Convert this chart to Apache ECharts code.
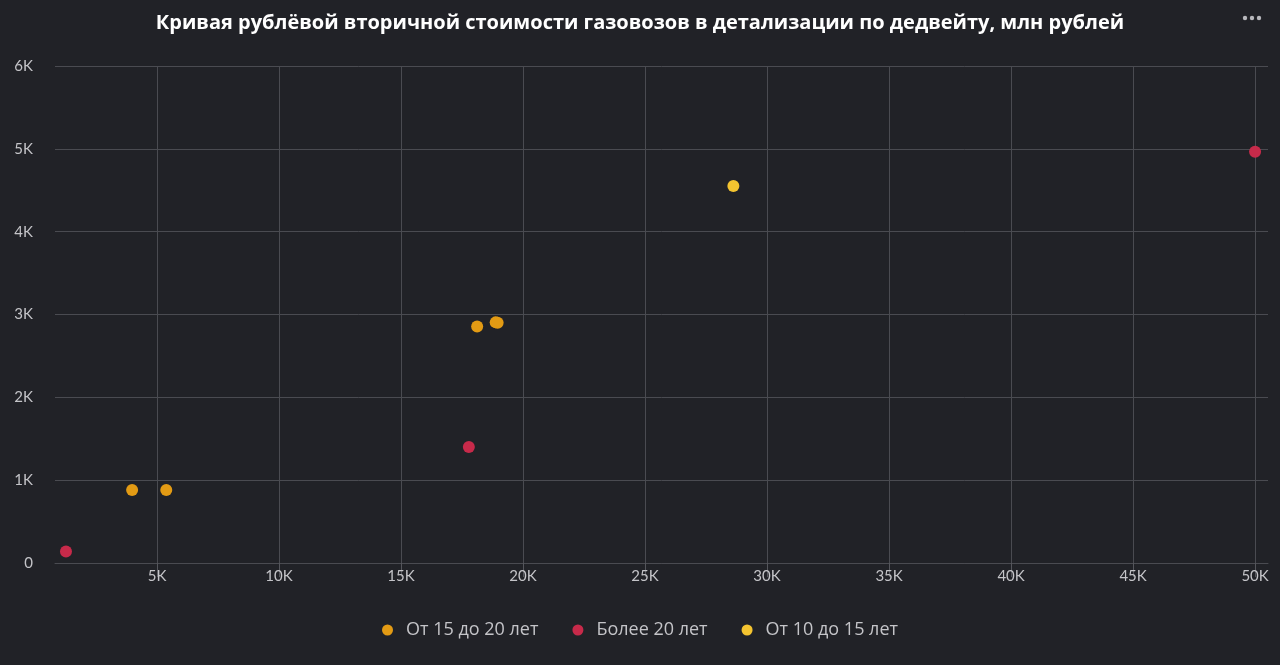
<!DOCTYPE html>
<html>
<head>
<meta charset="utf-8">
<script src="https://cdn.jsdelivr.net/npm/echarts@6/dist/echarts.min.js"></script>
<style>
html,body{margin:0;padding:0;background:#212227;}
#c{width:1280px;height:665px;}
</style>
</head>
<body>
<div id="c"></div>
<script>
const titleText = 'Кривая рублёвой вторичной стоимости газовозов в детализации по дедвейту, млн рублей';
const seriesNames = ['От 15 до 20 лет', 'Более 20 лет', 'От 10 до 15 лет'];
const seriesColors = ['#e39b14', '#c72a4a', '#f4c430'];
const age15to20 = [[3980, 882], [5380, 882], [18120, 2855], [18880, 2905], [18960, 2900]];
const ageOver20 = [[1270, 140], [17780, 1400], [50000, 4965]];
const age10to15 = [[28620, 4550]];
const xTicks = [5000, 10000, 15000, 20000, 25000, 30000, 35000, 40000, 45000, 50000];
const xMin = 820, xMax = 50530;
const yMin = 0, yMax = 6000, yStep = 1000;

const seriesData = [age15to20, ageOver20, age10to15];
const fmtK = v => v === 0 ? '0' : (v / 1000) + 'K';
const gridColor = '#4a4b51';
const labelColor = '#c4c4c8';

const chart = echarts.init(document.getElementById('c'), null, {renderer: 'canvas'});
chart.setOption({
  backgroundColor: '#212227',
  animation: false,
  title: {
    text: titleText, left: 'center', top: 8,
    textStyle: {color: '#ffffff', fontFamily: 'Open Sans', fontWeight: 'bold', fontSize: 20}
  },
  graphic: [0, 1, 2].map(i => ({
    type: 'circle', shape: {cx: 1245 + i * 7, cy: 18, r: 2.2},
    style: {fill: '#b8b8bc'}
  })),
  legend: {
    bottom: 21, left: 'center', icon: 'circle', itemWidth: 11, itemHeight: 11, itemGap: 34,
    textStyle: {color: '#c4c4c8', fontFamily: 'Open Sans', fontSize: 18, padding: [0, 0, 0, 8]},
    data: seriesNames
  },
  grid: {left: 55, right: 12, top: 66, bottom: 102},
  xAxis: {
    type: 'value', min: xMin, max: xMax,
    axisLine: {show: true, lineStyle: {color: gridColor}},
    axisTick: {show: true, length: 14, inside: false, customValues: xTicks, lineStyle: {color: '#55565c', width: 1}},
    axisLabel: {customValues: xTicks, formatter: fmtK, color: labelColor, fontFamily: 'Lato', fontSize: 15, margin: 6},
    splitLine: {show: true, lineStyle: {color: gridColor}}
  },
  yAxis: {
    type: 'value', min: yMin, max: yMax, interval: yStep,
    axisLine: {show: false}, axisTick: {show: false},
    axisLabel: {formatter: fmtK, color: labelColor, fontFamily: 'Lato', fontSize: 15, margin: 22},
    splitLine: {show: true, lineStyle: {color: gridColor}}
  },
  series: seriesNames.map((n, i) => ({
    name: n, type: 'scatter', data: seriesData[i], symbolSize: 12,
    itemStyle: {color: seriesColors[i], opacity: 1}
  }))
});
</script>
</body>
</html>
